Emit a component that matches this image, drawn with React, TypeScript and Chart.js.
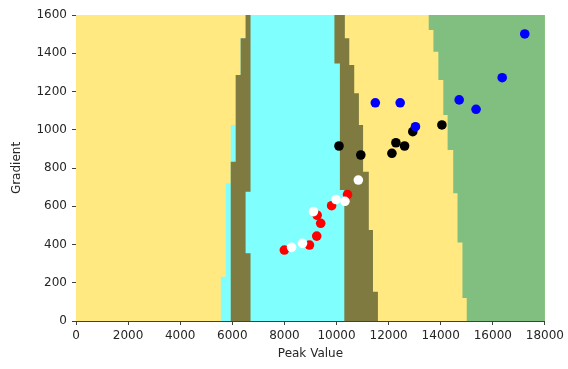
import React, { useEffect, useRef } from 'react';
import { Chart, registerables } from 'chart.js';

Chart.register(...registerables);

// Axis ranges / ticks
const X_MIN = 0;
const X_MAX = 18000;
const X_STEP = 2000;
const Y_MIN = 0;
const Y_MAX = 1600;
const Y_STEP = 200;

// Decision regions: band edges along Gradient (y) and the Peak Value (x) where each region ends
const B0_Y = [0, 1600];
const B0_X = [0];
const B1_Y = [0, 232, 720, 1025, 1286, 1478, 1600];
const B1_X = [5560, 5750, 5940, 6130, 6320, 6510];
const B2_Y = [0, 833, 1286, 1478, 1600];
const B2_X = [5940, 6130, 6320, 6510];
const B3_Y = [0, 354, 676, 1600];
const B3_X = [6700, 6510, 6700];
const B4_Y = [0, 685, 1347, 1600];
const B4_X = [10300, 10130, 9920];
const B5_Y = [0, 153, 476, 781, 1025, 1191, 1339, 1478, 1600];
const B5_X = [11590, 11400, 11240, 11020, 10860, 10680, 10490, 10320];
const B6_Y = [0, 120, 410, 668, 894, 1077, 1260, 1408, 1522, 1600];
const B6_X = [15000, 14835, 14645, 14480, 14265, 14100, 13910, 13720, 13540];

// Samples
const RED_X = [7997, 8962, 9240, 9393, 9256, 9812, 10423];
const RED_Y = [371, 397, 444, 511, 553, 603, 661];
const WHITE_X = [8276, 8695, 9115, 9980, 10323, 10838];
const WHITE_Y = [385, 406, 572, 635, 626, 737];
const BLACK_X = [10095, 10933, 12127, 12280, 12612, 12928, 14046];
const BLACK_Y = [915, 868, 877, 932, 915, 990, 1025];
const BLUE_X = [11490, 12444, 13031, 14709, 15357, 16360, 17226];
const BLUE_Y = [1141, 1141, 1016, 1156, 1107, 1272, 1501];

const YELLOW = '#FFE980';
const OLIVE = '#7F7A3F';
const CYAN = '#80FFFF';
const GREEN = '#80BF80';
const FONT = 'DejaVu Sans';
const TEXT = '#262626';
const AXIS = '#404040';

function stepBoundary(ys: number[], xs: number[]) {
  const pts: { x: number; y: number }[] = [];
  for (let i = 0; i < xs.length; i++) {
    pts.push({ x: xs[i], y: ys[i] });
    pts.push({ x: xs[i], y: ys[i + 1] });
  }
  return pts;
}

function zip(xs: number[], ys: number[]) {
  return xs.map((x, i) => ({ x, y: ys[i] }));
}

function region(ys: number[], xs: number[], color: string, order: number) {
  return {
    data: stepBoundary(ys, xs),
    borderColor: 'rgba(0,0,0,0)',
    borderWidth: 0,
    pointRadius: 0,
    backgroundColor: color,
    fill: { value: X_MAX },
    tension: 0,
    order,
    xAxisID: 'x',
    yAxisID: 'y',
  };
}

function points(xs: number[], ys: number[], color: string, order: number) {
  return {
    data: zip(xs, ys),
    showLine: false,
    borderColor: color,
    backgroundColor: color,
    pointBackgroundColor: color,
    pointBorderWidth: 0,
    pointRadius: 4.8,
    fill: false,
    order,
    xAxisID: 'x',
    yAxisID: 'y',
  };
}

export default function App() {
  const ref = useRef<HTMLCanvasElement | null>(null);

  useEffect(() => {
    document.body.style.margin = '0';
    const canvas = ref.current;
    if (!canvas) return;
    const tickFont = { family: FONT, size: 12 };
    const chart = new Chart(canvas, {
      type: 'line',
      data: {
        datasets: [
          region(B0_Y, B0_X, YELLOW, 20),
          region(B1_Y, B1_X, CYAN, 19),
          region(B2_Y, B2_X, OLIVE, 18),
          region(B3_Y, B3_X, CYAN, 17),
          region(B4_Y, B4_X, OLIVE, 16),
          region(B5_Y, B5_X, YELLOW, 15),
          region(B6_Y, B6_X, GREEN, 14),
          points(RED_X, RED_Y, '#FF0000', 4),
          points(WHITE_X, WHITE_Y, '#FFFFFF', 3),
          points(BLACK_X, BLACK_Y, '#000000', 2),
          points(BLUE_X, BLUE_Y, '#0000FF', 1),
        ] as any,
      },
      options: {
        indexAxis: 'y',
        responsive: false,
        animation: false,
        events: [],
        layout: { padding: { left: 0, right: 20, top: 15, bottom: 0 } },
        plugins: { legend: { display: false }, tooltip: { enabled: false } },
        scales: {
          x: {
            type: 'linear',
            position: 'bottom',
            min: X_MIN,
            max: X_MAX,
            ticks: {
              stepSize: X_STEP,
              color: TEXT,
              font: tickFont,
              padding: 4,
              maxRotation: 0,
              autoSkip: false,
              callback: (v: any) => String(v),
            },
            grid: { display: true, drawOnChartArea: false, drawTicks: true, tickLength: 4, tickColor: AXIS },
            border: { display: true, color: AXIS, width: 1 },
            title: { display: true, text: 'Peak Value', color: TEXT, font: tickFont, padding: { top: 0, bottom: 8 } },
            afterFit: (s: any) => { s.height = 48; },
          },
          y: {
            type: 'linear',
            position: 'left',
            min: Y_MIN,
            max: Y_MAX,
            ticks: {
              stepSize: Y_STEP,
              color: TEXT,
              font: tickFont,
              padding: 5,
              autoSkip: false,
              callback: (v: any) => String(v),
            },
            grid: { display: true, drawOnChartArea: false, drawTicks: true, tickLength: 4, tickColor: AXIS },
            border: { display: true, color: AXIS, width: 1 },
            title: { display: true, text: 'Gradient', color: TEXT, font: tickFont, padding: { top: 10, bottom: 0 } },
            afterFit: (s: any) => { s.width = 76; },
          },
          x2: {
            type: 'linear',
            position: 'top',
            min: X_MIN,
            max: X_MAX,
            grid: { display: false },
            ticks: { display: false },
            border: { display: true, color: AXIS, width: 1 },
            afterFit: (s: any) => { s.height = 0; },
          },
          y2: {
            type: 'linear',
            position: 'right',
            min: Y_MIN,
            max: Y_MAX,
            grid: { display: false },
            ticks: { display: false },
            border: { display: true, color: AXIS, width: 1 },
            afterFit: (s: any) => { s.width = 0; },
          },
        },
      } as any,
    });
    return () => chart.destroy();
  }, []);

  return (
    <div style={{ width: 568, height: 369 }}>
      <canvas ref={ref} width={568} height={369} />
    </div>
  );
}
